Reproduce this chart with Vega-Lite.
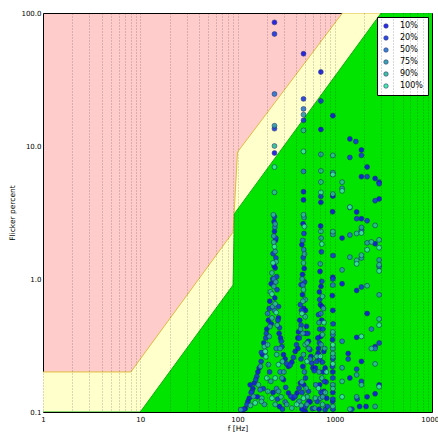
{
  "$schema": "https://vega.github.io/schema/vega-lite/v6.json",
  "width": 389,
  "height": 399,
  "autosize": {"type": "none"},
  "padding": {"left": 43, "top": 13, "right": 6, "bottom": 25},
  "background": "#ffffff",
  "view": {"fill": "#ffcccc", "stroke": "#000000", "strokeWidth": 1},
  "config": {
    "font": "DejaVu Sans",
    "axis": {"labelFont": "DejaVu Sans", "titleFont": "DejaVu Sans", "labelFontSize": 7, "titleFontSize": 7.5, "titleFontWeight": "normal", "labelColor": "#000", "titleColor": "#000", "domain": false, "tickColor": "#000"},
    "legend": {"labelFont": "DejaVu Sans"}
  },
  "datasets": {
    "yellow": [
      {"f": 1, "p": 0.2}, {"f": 8, "p": 0.2}, {"f": 90, "p": 2.25}, {"f": 100, "p": 9.0}, {"f": 1200, "p": 100}, {"f": 10000, "p": 100}
    ],
    "green": [
      {"f": 1, "p": 0.1}, {"f": 10, "p": 0.1}, {"f": 90, "p": 0.9}, {"f": 93, "p": 3.1}, {"f": 3000, "p": 100}, {"f": 10000, "p": 100}
    ],
    "pts": [
      {"f":240,"p":85,"d":"10%"},{"f":240,"p":8.85,"d":"10%"},{"f":477,"p":49.4,"d":"10%"},{"f":477,"p":4.53,"d":"10%"},{"f":477,"p":3.93,"d":"10%"},{"f":720,"p":36,"d":"10%"},{"f":720,"p":13.3,"d":"10%"},{"f":720,"p":3.77,"d":"10%"},{"f":956,"p":16.9,"d":"10%"},{"f":1430,"p":11.3,"d":"10%"},{"f":1880,"p":9.33,"d":"10%"},{"f":2153,"p":6.95,"d":"10%"},{"f":1880,"p":5.88,"d":"10%"},{"f":2600,"p":5.7,"d":"10%"},{"f":2860,"p":5.35,"d":"10%"},{"f":956,"p":4.2,"d":"10%"},{"f":2860,"p":4.0,"d":"10%"},{"f":1680,"p":3.19,"d":"10%"},{"f":1880,"p":2.84,"d":"10%"},{"f":1190,"p":2.03,"d":"10%"},{"f":2600,"p":1.84,"d":"10%"},{"f":956,"p":1.03,"d":"10%"},{"f":1190,"p":0.92,"d":"10%"},{"f":1680,"p":0.82,"d":"10%"},{"f":956,"p":0.58,"d":"10%"},{"f":2153,"p":0.55,"d":"10%"},{"f":1680,"p":0.364,"d":"10%"},{"f":2600,"p":0.31,"d":"10%"},{"f":1375,"p":0.275,"d":"10%"},{"f":1880,"p":0.24,"d":"10%"},{"f":1430,"p":0.18,"d":"10%"},{"f":2860,"p":0.16,"d":"10%"},{"f":956,"p":0.2,"d":"10%"},{"f":956,"p":0.14,"d":"10%"},{"f":2600,"p":0.137,"d":"10%"},{"f":2153,"p":0.13,"d":"10%"},{"f":1800,"p":0.11,"d":"10%"},{"f":2100,"p":0.11,"d":"10%"},
      {"f":240,"p":2.28,"d":"10%"},{"f":244,"p":1.21,"d":"10%"},{"f":222,"p":0.92,"d":"10%"},{"f":215,"p":0.68,"d":"10%"},{"f":208,"p":0.49,"d":"10%"},{"f":200,"p":0.42,"d":"10%"},{"f":181,"p":0.27,"d":"10%"},{"f":167,"p":0.214,"d":"10%"},{"f":149,"p":0.165,"d":"10%"},{"f":135,"p":0.16,"d":"10%"},{"f":132,"p":0.127,"d":"10%"},{"f":120,"p":0.106,"d":"10%"},{"f":264,"p":0.51,"d":"10%"},{"f":277,"p":0.36,"d":"10%"},{"f":297,"p":0.27,"d":"10%"},{"f":309,"p":0.25,"d":"10%"},{"f":334,"p":0.22,"d":"10%"},{"f":362,"p":0.237,"d":"10%"},{"f":392,"p":0.285,"d":"10%"},{"f":417,"p":0.36,"d":"10%"},{"f":297,"p":0.175,"d":"10%"},{"f":334,"p":0.139,"d":"10%"},{"f":373,"p":0.127,"d":"10%"},{"f":410,"p":0.139,"d":"10%"},{"f":443,"p":0.165,"d":"10%"},{"f":459,"p":1.81,"d":"10%"},{"f":466,"p":1.08,"d":"10%"},{"f":466,"p":0.762,"d":"10%"},{"f":480,"p":0.6,"d":"10%"},{"f":437,"p":0.49,"d":"10%"},{"f":512,"p":0.44,"d":"10%"},{"f":424,"p":0.4,"d":"10%"},{"f":537,"p":0.34,"d":"10%"},{"f":568,"p":0.262,"d":"10%"},{"f":596,"p":0.214,"d":"10%"},{"f":633,"p":0.214,"d":"10%"},{"f":674,"p":0.277,"d":"10%"},{"f":558,"p":0.119,"d":"10%"},{"f":497,"p":0.101,"d":"10%"},{"f":706,"p":1.14,"d":"10%"},{"f":695,"p":0.8,"d":"10%"},{"f":712,"p":0.641,"d":"10%"},{"f":735,"p":0.49,"d":"10%"},{"f":670,"p":0.36,"d":"10%"},{"f":771,"p":0.285,"d":"10%"},{"f":796,"p":0.214,"d":"10%"},{"f":771,"p":0.143,"d":"10%"},{"f":828,"p":0.127,"d":"10%"},
      {"f":238,"p":2.7,"d":"10%"},{"f":246,"p":1.95,"d":"10%"},{"f":238,"p":1.25,"d":"10%"},{"f":242,"p":0.72,"d":"10%"},{"f":222,"p":0.46,"d":"10%"},{"f":268,"p":0.39,"d":"10%"},{"f":186,"p":0.33,"d":"10%"},{"f":162,"p":0.2,"d":"10%"},{"f":144,"p":0.15,"d":"10%"},{"f":128,"p":0.12,"d":"10%"},{"f":112,"p":0.1,"d":"10%"},{"f":160,"p":0.13,"d":"10%"},{"f":232,"p":0.14,"d":"10%"},{"f":270,"p":0.11,"d":"10%"},{"f":472,"p":2.6,"d":"10%"},{"f":485,"p":1.2,"d":"10%"},{"f":500,"p":0.58,"d":"10%"},{"f":418,"p":0.3,"d":"10%"},{"f":470,"p":0.22,"d":"10%"},{"f":480,"p":0.16,"d":"10%"},{"f":540,"p":0.12,"d":"10%"},{"f":460,"p":0.105,"d":"10%"},{"f":716,"p":2.5,"d":"10%"},{"f":722,"p":0.88,"d":"10%"},{"f":742,"p":0.62,"d":"10%"},{"f":720,"p":0.37,"d":"10%"},{"f":680,"p":0.3,"d":"10%"},{"f":760,"p":0.2,"d":"10%"},{"f":700,"p":0.16,"d":"10%"},{"f":690,"p":0.105,"d":"10%"},{"f":950,"p":3.2,"d":"10%"},{"f":945,"p":0.75,"d":"10%"},{"f":950,"p":0.35,"d":"10%"},{"f":952,"p":0.12,"d":"10%"},
      {"f":240,"p":69.5,"d":"20%"},{"f":240,"p":13.5,"d":"20%"},{"f":477,"p":22.6,"d":"20%"},{"f":477,"p":15.6,"d":"20%"},{"f":720,"p":21.8,"d":"20%"},{"f":720,"p":4.18,"d":"20%"},{"f":1648,"p":10.8,"d":"20%"},{"f":1880,"p":8.5,"d":"20%"},{"f":1430,"p":8.2,"d":"20%"},{"f":2153,"p":5.88,"d":"20%"},{"f":2860,"p":5.2,"d":"20%"},{"f":2600,"p":3.88,"d":"20%"},{"f":1680,"p":2.84,"d":"20%"},{"f":2153,"p":2.74,"d":"20%"},{"f":956,"p":1.0,"d":"20%"},{"f":1880,"p":0.87,"d":"20%"},{"f":2860,"p":0.33,"d":"20%"},{"f":956,"p":0.25,"d":"20%"},{"f":1375,"p":0.25,"d":"20%"},{"f":1680,"p":0.21,"d":"20%"},{"f":1880,"p":0.17,"d":"20%"},{"f":956,"p":0.18,"d":"20%"},{"f":956,"p":0.125,"d":"20%"},{"f":1700,"p":0.125,"d":"20%"},{"f":1500,"p":0.105,"d":"20%"},
      {"f":240,"p":2.94,"d":"20%"},{"f":248,"p":2.03,"d":"20%"},{"f":248,"p":1.44,"d":"20%"},{"f":253,"p":1.04,"d":"20%"},{"f":255,"p":0.83,"d":"20%"},{"f":264,"p":0.62,"d":"20%"},{"f":260,"p":0.49,"d":"20%"},{"f":195,"p":0.36,"d":"20%"},{"f":175,"p":0.24,"d":"20%"},{"f":158,"p":0.185,"d":"20%"},{"f":141,"p":0.143,"d":"20%"},{"f":125,"p":0.114,"d":"20%"},{"f":270,"p":0.43,"d":"20%"},{"f":286,"p":0.31,"d":"20%"},{"f":321,"p":0.23,"d":"20%"},{"f":348,"p":0.225,"d":"20%"},{"f":376,"p":0.257,"d":"20%"},{"f":404,"p":0.32,"d":"20%"},{"f":313,"p":0.153,"d":"20%"},{"f":353,"p":0.131,"d":"20%"},{"f":392,"p":0.131,"d":"20%"},{"f":430,"p":0.151,"d":"20%"},{"f":451,"p":0.906,"d":"20%"},{"f":443,"p":0.641,"d":"20%"},{"f":451,"p":0.45,"d":"20%"},{"f":528,"p":0.39,"d":"20%"},{"f":555,"p":0.294,"d":"20%"},{"f":582,"p":0.233,"d":"20%"},{"f":615,"p":0.204,"d":"20%"},{"f":653,"p":0.24,"d":"20%"},{"f":695,"p":0.33,"d":"20%"},{"f":537,"p":0.143,"d":"20%"},{"f":590,"p":0.106,"d":"20%"},{"f":735,"p":0.96,"d":"20%"},{"f":681,"p":0.539,"d":"20%"},{"f":700,"p":0.42,"d":"20%"},{"f":746,"p":0.237,"d":"20%"},{"f":815,"p":0.168,"d":"20%"},{"f":796,"p":0.104,"d":"20%"},
      {"f":232,"p":1.55,"d":"20%"},{"f":230,"p":1.0,"d":"20%"},{"f":212,"p":0.6,"d":"20%"},{"f":198,"p":0.39,"d":"20%"},{"f":282,"p":0.34,"d":"20%"},{"f":176,"p":0.28,"d":"20%"},{"f":154,"p":0.175,"d":"20%"},{"f":138,"p":0.14,"d":"20%"},{"f":116,"p":0.105,"d":"20%"},{"f":184,"p":0.15,"d":"20%"},{"f":214,"p":0.2,"d":"20%"},{"f":258,"p":0.125,"d":"20%"},{"f":290,"p":0.105,"d":"20%"},{"f":482,"p":2.2,"d":"20%"},{"f":474,"p":1.45,"d":"20%"},{"f":490,"p":0.95,"d":"20%"},{"f":455,"p":0.58,"d":"20%"},{"f":505,"p":0.39,"d":"20%"},{"f":432,"p":0.36,"d":"20%"},{"f":450,"p":0.25,"d":"20%"},{"f":500,"p":0.18,"d":"20%"},{"f":462,"p":0.14,"d":"20%"},{"f":500,"p":0.11,"d":"20%"},{"f":728,"p":1.6,"d":"20%"},{"f":700,"p":0.7,"d":"20%"},{"f":756,"p":0.42,"d":"20%"},{"f":700,"p":0.25,"d":"20%"},{"f":780,"p":0.17,"d":"20%"},{"f":720,"p":0.14,"d":"20%"},{"f":660,"p":0.12,"d":"20%"},{"f":840,"p":0.11,"d":"20%"},{"f":960,"p":1.5,"d":"20%"},{"f":962,"p":0.46,"d":"20%"},{"f":948,"p":0.22,"d":"20%"},{"f":960,"p":0.105,"d":"20%"},
      {"f":240,"p":24.6,"d":"50%"},{"f":477,"p":19.0,"d":"50%"},{"f":477,"p":6.44,"d":"50%"},{"f":1880,"p":2.33,"d":"50%"},{"f":1430,"p":2.14,"d":"50%"},{"f":2860,"p":1.24,"d":"50%"},{"f":2380,"p":0.42,"d":"50%"},{"f":956,"p":0.38,"d":"50%"},{"f":1190,"p":0.34,"d":"50%"},{"f":2600,"p":0.3,"d":"50%"},{"f":240,"p":0.58,"d":"50%"},{"f":171,"p":0.147,"d":"50%"},{"f":274,"p":0.2,"d":"50%"},{"f":309,"p":0.119,"d":"50%"},{"f":480,"p":1.66,"d":"50%"},{"f":488,"p":0.2,"d":"50%"},{"f":638,"p":0.16,"d":"50%"},{"f":236,"p":1.0,"d":"50%"},{"f":470,"p":0.9,"d":"50%"},{"f":720,"p":0.55,"d":"50%"},{"f":250,"p":0.3,"d":"50%"},{"f":560,"p":0.25,"d":"50%"},{"f":956,"p":0.9,"d":"50%"},{"f":242,"p":2.45,"d":"50%"},{"f":204,"p":0.55,"d":"50%"},{"f":252,"p":0.15,"d":"50%"},{"f":468,"p":1.95,"d":"50%"},
      {"f":240,"p":14.2,"d":"75%"},{"f":477,"p":17.2,"d":"75%"},{"f":720,"p":8.65,"d":"75%"},{"f":956,"p":6.3,"d":"75%"},{"f":1190,"p":4.8,"d":"75%"},{"f":1430,"p":3.45,"d":"75%"},{"f":1880,"p":2.44,"d":"75%"},{"f":956,"p":2.16,"d":"75%"},{"f":2153,"p":1.87,"d":"75%"},{"f":1880,"p":1.44,"d":"75%"},{"f":1430,"p":1.46,"d":"75%"},{"f":2860,"p":1.39,"d":"75%"},{"f":1190,"p":1.17,"d":"75%"},{"f":2860,"p":0.76,"d":"75%"},{"f":956,"p":0.3,"d":"75%"},{"f":1190,"p":0.215,"d":"75%"},{"f":1680,"p":0.19,"d":"75%"},{"f":956,"p":0.16,"d":"75%"},{"f":1680,"p":0.13,"d":"75%"},{"f":2600,"p":0.11,"d":"75%"},
      {"f":244,"p":2.59,"d":"75%"},{"f":244,"p":1.61,"d":"75%"},{"f":236,"p":0.88,"d":"75%"},{"f":216,"p":0.44,"d":"75%"},{"f":208,"p":0.227,"d":"75%"},{"f":146,"p":0.131,"d":"75%"},{"f":189,"p":0.114,"d":"75%"},{"f":274,"p":0.3,"d":"75%"},{"f":286,"p":0.18,"d":"75%"},{"f":264,"p":0.143,"d":"75%"},{"f":321,"p":0.114,"d":"75%"},{"f":484,"p":2.9,"d":"75%"},{"f":488,"p":1.54,"d":"75%"},{"f":497,"p":0.7,"d":"75%"},{"f":470,"p":0.39,"d":"75%"},{"f":477,"p":0.27,"d":"75%"},{"f":508,"p":0.151,"d":"75%"},{"f":516,"p":0.114,"d":"75%"},{"f":724,"p":2.03,"d":"75%"},{"f":765,"p":0.6,"d":"75%"},{"f":724,"p":0.321,"d":"75%"},{"f":690,"p":0.2,"d":"75%"},{"f":712,"p":0.127,"d":"75%"},{"f":619,"p":0.107,"d":"75%"},
      {"f":236,"p":2.1,"d":"75%"},{"f":248,"p":0.95,"d":"75%"},{"f":230,"p":0.62,"d":"75%"},{"f":212,"p":0.37,"d":"75%"},{"f":172,"p":0.22,"d":"75%"},{"f":108,"p":0.104,"d":"75%"},{"f":220,"p":0.17,"d":"75%"},{"f":300,"p":0.2,"d":"75%"},{"f":462,"p":1.0,"d":"75%"},{"f":445,"p":0.42,"d":"75%"},{"f":540,"p":0.3,"d":"75%"},{"f":430,"p":0.12,"d":"75%"},{"f":710,"p":1.3,"d":"75%"},{"f":690,"p":0.47,"d":"75%"},{"f":750,"p":0.13,"d":"75%"},{"f":790,"p":0.3,"d":"75%"},{"f":960,"p":0.26,"d":"75%"},
      {"f":240,"p":10.0,"d":"90%"},{"f":240,"p":4.48,"d":"90%"},{"f":477,"p":13.1,"d":"90%"},{"f":720,"p":6.5,"d":"90%"},{"f":720,"p":5.36,"d":"90%"},{"f":956,"p":8.5,"d":"90%"},{"f":1190,"p":5.35,"d":"90%"},{"f":956,"p":4.35,"d":"90%"},{"f":2600,"p":2.53,"d":"90%"},{"f":956,"p":2.27,"d":"90%"},{"f":1680,"p":2.2,"d":"90%"},{"f":2380,"p":1.9,"d":"90%"},{"f":2860,"p":1.97,"d":"90%"},{"f":1880,"p":1.51,"d":"90%"},{"f":1680,"p":1.38,"d":"90%"},{"f":2860,"p":1.28,"d":"90%"},{"f":2153,"p":0.89,"d":"90%"},{"f":2860,"p":0.5,"d":"90%"},{"f":956,"p":0.4,"d":"90%"},{"f":2380,"p":0.3,"d":"90%"},{"f":956,"p":0.275,"d":"90%"},{"f":2600,"p":0.23,"d":"90%"},{"f":1880,"p":0.16,"d":"90%"},{"f":1190,"p":0.17,"d":"90%"},{"f":956,"p":0.11,"d":"90%"},{"f":1430,"p":0.105,"d":"90%"},
      {"f":234,"p":3.04,"d":"90%"},{"f":236,"p":1.89,"d":"90%"},{"f":226,"p":1.11,"d":"90%"},{"f":244,"p":0.65,"d":"90%"},{"f":226,"p":0.51,"d":"90%"},{"f":189,"p":0.31,"d":"90%"},{"f":164,"p":0.16,"d":"90%"},{"f":178,"p":0.127,"d":"90%"},{"f":205,"p":0.143,"d":"90%"},{"f":290,"p":0.24,"d":"90%"},{"f":253,"p":0.27,"d":"90%"},{"f":244,"p":0.114,"d":"90%"},{"f":362,"p":0.107,"d":"90%"},{"f":477,"p":3.04,"d":"90%"},{"f":477,"p":1.32,"d":"90%"},{"f":477,"p":0.83,"d":"90%"},{"f":497,"p":0.52,"d":"90%"},{"f":497,"p":0.321,"d":"90%"},{"f":459,"p":0.168,"d":"90%"},{"f":451,"p":0.112,"d":"90%"},{"f":720,"p":2.28,"d":"90%"},{"f":746,"p":0.74,"d":"90%"},{"f":746,"p":0.381,"d":"90%"},{"f":653,"p":0.262,"d":"90%"},{"f":735,"p":0.18,"d":"90%"},{"f":746,"p":0.114,"d":"90%"},{"f":629,"p":0.127,"d":"90%"},
      {"f":250,"p":1.35,"d":"90%"},{"f":218,"p":0.8,"d":"90%"},{"f":256,"p":0.45,"d":"90%"},{"f":204,"p":0.32,"d":"90%"},{"f":136,"p":0.112,"d":"90%"},{"f":176,"p":0.12,"d":"90%"},{"f":280,"p":0.13,"d":"90%"},{"f":470,"p":0.68,"d":"90%"},{"f":520,"p":0.33,"d":"90%"},{"f":520,"p":0.13,"d":"90%"},{"f":800,"p":0.14,"d":"90%"},{"f":958,"p":0.15,"d":"90%"},
      {"f":240,"p":6.95,"d":"100%"},{"f":477,"p":9.1,"d":"100%"},{"f":720,"p":4.48,"d":"100%"},{"f":956,"p":6.1,"d":"100%"},{"f":1190,"p":4.6,"d":"100%"},{"f":1430,"p":3.47,"d":"100%"},{"f":1880,"p":2.22,"d":"100%"},{"f":2860,"p":1.72,"d":"100%"},{"f":2153,"p":1.66,"d":"100%"},{"f":1680,"p":1.3,"d":"100%"},{"f":2860,"p":1.15,"d":"100%"},{"f":2860,"p":0.45,"d":"100%"},{"f":1880,"p":0.37,"d":"100%"},{"f":956,"p":0.32,"d":"100%"},{"f":956,"p":0.23,"d":"100%"},{"f":2860,"p":0.155,"d":"100%"},{"f":1190,"p":0.13,"d":"100%"},
      {"f":232,"p":1.32,"d":"100%"},{"f":226,"p":0.77,"d":"100%"},{"f":193,"p":0.285,"d":"100%"},{"f":152,"p":0.117,"d":"100%"},{"f":200,"p":0.18,"d":"100%"},{"f":264,"p":0.227,"d":"100%"},{"f":244,"p":0.18,"d":"100%"},{"f":226,"p":0.127,"d":"100%"},{"f":407,"p":0.114,"d":"100%"},{"f":488,"p":2.48,"d":"100%"},{"f":459,"p":0.55,"d":"100%"},{"f":516,"p":0.24,"d":"100%"},{"f":477,"p":0.127,"d":"100%"},{"f":735,"p":1.83,"d":"100%"},{"f":776,"p":0.47,"d":"100%"},{"f":712,"p":0.262,"d":"100%"},{"f":681,"p":0.151,"d":"100%"},
      {"f":240,"p":1.75,"d":"100%"},{"f":250,"p":0.56,"d":"100%"},{"f":196,"p":0.26,"d":"100%"},{"f":820,"p":0.2,"d":"100%"}
    ]
  },
  "layer": [
    {
      "data": {"name": "yellow"},
      "mark": {"type": "area", "color": "#ffffcc", "opacity": 1, "clip": true, "line": {"color": "#e0bc40", "strokeWidth": 1}},
      "encoding": {
        "x": {"field": "f", "type": "quantitative", "scale": {"type": "log", "domain": [1, 10000]},
          "axis": {"title": "f [Hz]", "titlePadding": 2, "zindex": 1,
            "values": [1,2,3,4,5,6,7,8,9,10,20,30,40,50,60,70,80,90,100,200,300,400,500,600,700,800,900,1000,2000,3000,4000,5000,6000,7000,8000,9000,10000],
            "labelExpr": "(datum.value==1||datum.value==10||datum.value==100||datum.value==1000||datum.value==10000) ? format(datum.value,'d') : ''",
            "grid": true, "gridDash": [1, 2], "gridColor": "#000", "gridOpacity": 0.38, "gridWidth": 0.8,
            "ticks": false, "labelPadding": 3, "labelFlush": false}},
        "y": {"field": "p", "type": "quantitative", "scale": {"type": "log", "domain": [0.1, 100]},
          "axis": {"title": "Flicker percent", "titlePadding": 4, "zindex": 1,
            "values": [0.1,0.2,0.3,0.4,0.5,0.6,0.7,0.8,0.9,1,2,3,4,5,6,7,8,9,10,20,30,40,50,60,70,80,90,100],
            "labelExpr": "(datum.value==0.1||datum.value==1||datum.value==10||datum.value==100) ? format(datum.value,'.1f') : ''",
            "grid": false, "ticks": false, "labelPadding": 2, "labelFlush": false}},
        "y2": {"datum": 0.1}
      }
    },
    {
      "data": {"name": "green"},
      "mark": {"type": "area", "color": "#00e400", "opacity": 1, "clip": true, "line": {"color": "#10b010", "strokeWidth": 1}},
      "encoding": {
        "x": {"field": "f", "type": "quantitative"},
        "y": {"field": "p", "type": "quantitative"},
        "y2": {"datum": 0.1}
      }
    },
    {
      "data": {"name": "pts"},
      "mark": {"type": "point", "filled": true, "size": 24, "stroke": "#1a2a6a", "strokeWidth": 0.6, "opacity": 0.9, "clip": true},
      "encoding": {
        "x": {"field": "f", "type": "quantitative"},
        "y": {"field": "p", "type": "quantitative"},
        "color": {"field": "d", "type": "nominal",
          "scale": {"domain": ["10%","20%","50%","75%","90%","100%"], "range": ["#1414e6","#1a36e0","#2a74cc","#2a9aa8","#2cbc98","#36e8a0"]},
          "legend": {"title": null, "orient": "top-right", "offset": 4, "fillColor": "#ffffff", "strokeColor": "#000000", "padding": 5, "labelFontSize": 8, "symbolSize": 20, "labelOffset": 10, "rowPadding": 4, "symbolStrokeWidth": 0.6}}
      }
    }
  ]
}
